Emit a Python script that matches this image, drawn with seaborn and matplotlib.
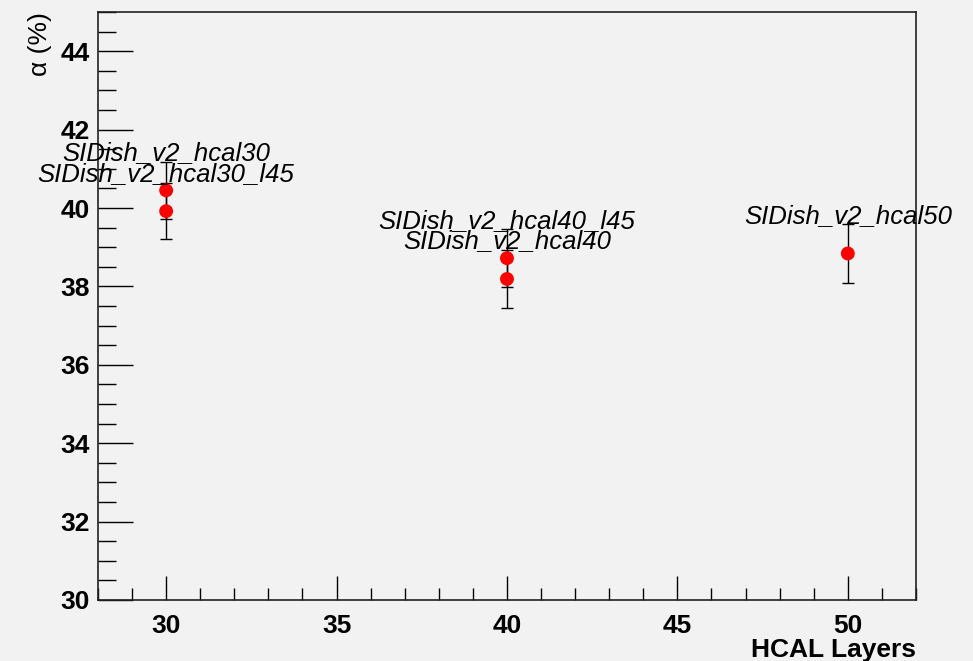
import numpy as np
import pandas as pd
import matplotlib
matplotlib.use("Agg")
import matplotlib.pyplot as plt
import seaborn as sns
from matplotlib.ticker import MultipleLocator

# data
hcal_layers = [30, 30, 40, 40, 50]
alpha = [40.45, 39.92, 38.72, 38.19, 38.84]
alpha_err = [0.73, 0.72, 0.74, 0.73, 0.75]
names = ['SIDish_v2_hcal30', 'SIDish_v2_hcal30_l45', 'SIDish_v2_hcal40_l45',
         'SIDish_v2_hcal40', 'SIDish_v2_hcal50']

df = pd.DataFrame({'layers': hcal_layers, 'alpha': alpha, 'err': alpha_err, 'name': names})

sns.set_style("ticks")
bg = '#f2f2f2'
plt.rcParams['font.family'] = ['Liberation Sans', 'DejaVu Sans']

fig = plt.figure(figsize=(9.73, 6.61), dpi=100, facecolor=bg)
ax = fig.add_axes([0.1007, 0.0923, 0.8407, 0.8895])
ax.set_facecolor(bg)

ax.errorbar(df.layers, df.alpha, yerr=df.err, fmt='none', ecolor='black',
            elinewidth=1.0, capsize=4, capthick=1.0, zorder=2)
sns.scatterplot(data=df, x='layers', y='alpha', ax=ax, color='red', s=100,
                edgecolor='none', zorder=3, legend=False)

for _, r in df.iterrows():
    ax.text(r.layers, r.alpha + 0.78, r['name'], ha='center', va='baseline',
            fontsize=18.5, style='italic', color='black')

ax.set_xlim(28, 52)
ax.set_ylim(30, 45)
ax.xaxis.set_major_locator(MultipleLocator(5))
ax.xaxis.set_minor_locator(MultipleLocator(1))
ax.yaxis.set_major_locator(MultipleLocator(2))
ax.yaxis.set_minor_locator(MultipleLocator(0.5))

ax.tick_params(axis='both', which='both', direction='in', color='black', width=1,
               top=False, right=False, labelcolor='black')
ax.tick_params(axis='x', which='major', length=17, pad=10)
ax.tick_params(axis='x', which='minor', length=9)
ax.tick_params(axis='y', which='major', length=25, pad=6)
ax.tick_params(axis='y', which='minor', length=13)

for lbl in ax.get_xticklabels() + ax.get_yticklabels():
    lbl.set_fontweight('bold')
    lbl.set_fontsize(19)

for sp in ax.spines.values():
    sp.set_visible(True)
    sp.set_color('#222222')
    sp.set_linewidth(1.2)

ax.set_xlabel('HCAL Layers', fontsize=19, fontweight='bold', color='black',
              loc='right', labelpad=0)
ax.set_ylabel('α (%)', fontsize=19, color='black', loc='top', labelpad=6)

fig.savefig('out.png', dpi=100, facecolor=bg)
